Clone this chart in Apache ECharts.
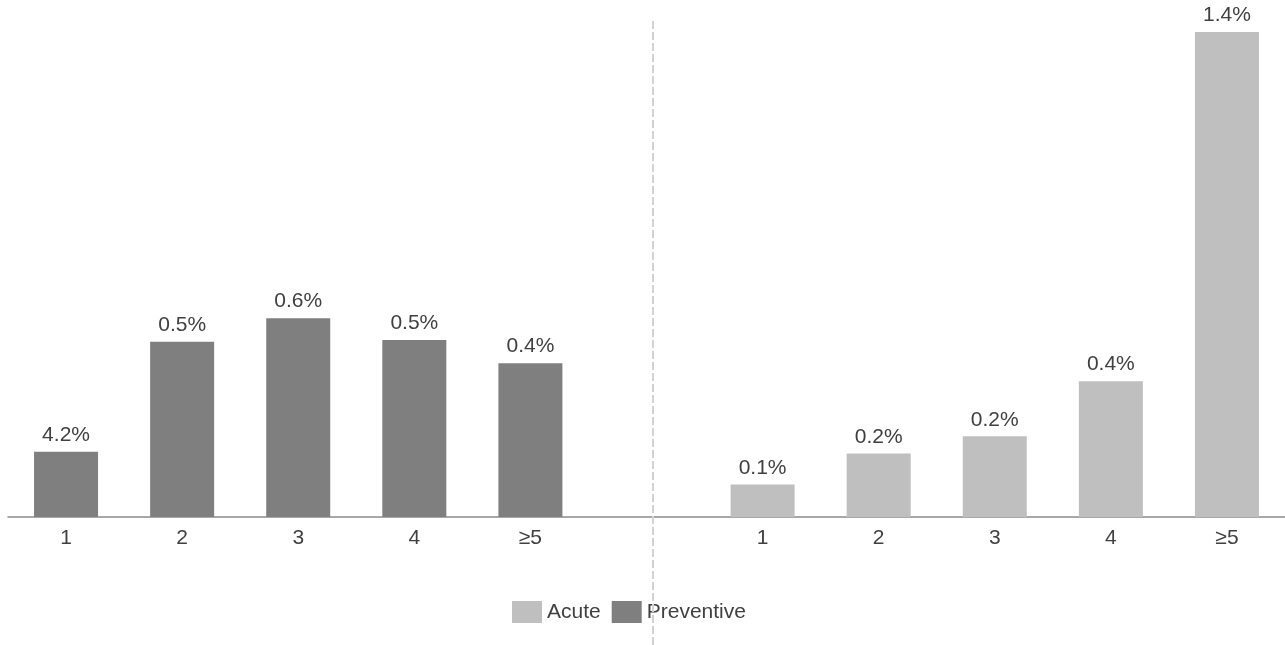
<!DOCTYPE html>
<html>
<head>
<meta charset="utf-8">
<script src="https://cdn.jsdelivr.net/npm/echarts@6/dist/echarts.min.js"></script>
<style>
  html, body { margin: 0; padding: 0; background: #fff; }
  #chart { width: 1285px; height: 645px; }
</style>
</head>
<body>
<div id="chart"></div>
<script>
// Number of treatments, shown once per panel
const categories = ['1', '2', '3', '4', '\u22655'];

// Bar heights (%) per panel
const preventiveValues = [0.188, 0.506, 0.574, 0.511, 0.444];
const acuteValues = [0.094, 0.183, 0.233, 0.392, 1.40];

// Printed labels above each bar
const preventiveLabels = ['4.2%', '0.5%', '0.6%', '0.5%', '0.4%'];
const acuteLabels = ['0.1%', '0.2%', '0.2%', '0.4%', '1.4%'];

const FONT = 'Liberation Sans, Arial, sans-serif';
const TEXT = '#404040';
const SIZE = 21;

// Left panel = preventive, one empty slot as spacer, right panel = acute
const xCats = categories.concat([''], categories);
const blank = categories.map(() => '-');
const prevData = preventiveValues.concat(['-'], blank);
const acuteData = blank.concat(['-'], acuteValues);
const prevText = preventiveLabels.concat([''], categories.map(() => ''));
const acuteText = categories.map(() => '').concat([''], acuteLabels);

const chart = echarts.init(document.getElementById('chart'), null, { renderer: 'canvas' });

const labelStyle = (texts) => ({
  show: true,
  position: 'top',
  distance: 6,
  color: TEXT,
  fontFamily: FONT,
  fontSize: SIZE,
  formatter: (p) => texts[p.dataIndex]
});

chart.setOption({
  animation: false,
  backgroundColor: '#ffffff',
  grid: { left: 8, right: 0, top: 32, bottom: 128, containLabel: false },
  legend: {
    left: 507,
    top: 596,
    itemWidth: 30,
    itemHeight: 22,
    itemGap: 11,
    icon: 'rect',
    textStyle: { color: TEXT, fontFamily: FONT, fontSize: SIZE, padding: [5, 0, 0, 0] },
    data: ['Acute', 'Preventive']
  },
  xAxis: {
    type: 'category',
    data: xCats,
    axisLine: { show: true, lineStyle: { color: '#8c8c8c', width: 1.5 } },
    axisTick: { show: false },
    axisLabel: { color: TEXT, fontFamily: FONT, fontSize: SIZE, margin: 11, interval: 0 },
    splitLine: { show: false }
  },
  yAxis: {
    type: 'value',
    min: 0,
    max: 1.4,
    show: false,
    splitLine: { show: false }
  },
  series: [
    {
      name: 'Acute',
      type: 'bar',
      data: acuteData,
      barWidth: 64,
      barGap: '-100%',
      itemStyle: { color: '#bfbfbf' },
      label: labelStyle(acuteText)
    },
    {
      name: 'Preventive',
      type: 'bar',
      data: prevData,
      barWidth: 64,
      itemStyle: { color: '#7f7f7f' },
      label: labelStyle(prevText)
    }
  ],
  graphic: [
    {
      type: 'line',
      z: 100,
      shape: { x1: 653, y1: 21, x2: 653, y2: 645 },
      style: { stroke: '#d2d2d2', lineWidth: 2, lineDash: [8, 3] }
    }
  ]
});
</script>
</body>
</html>
